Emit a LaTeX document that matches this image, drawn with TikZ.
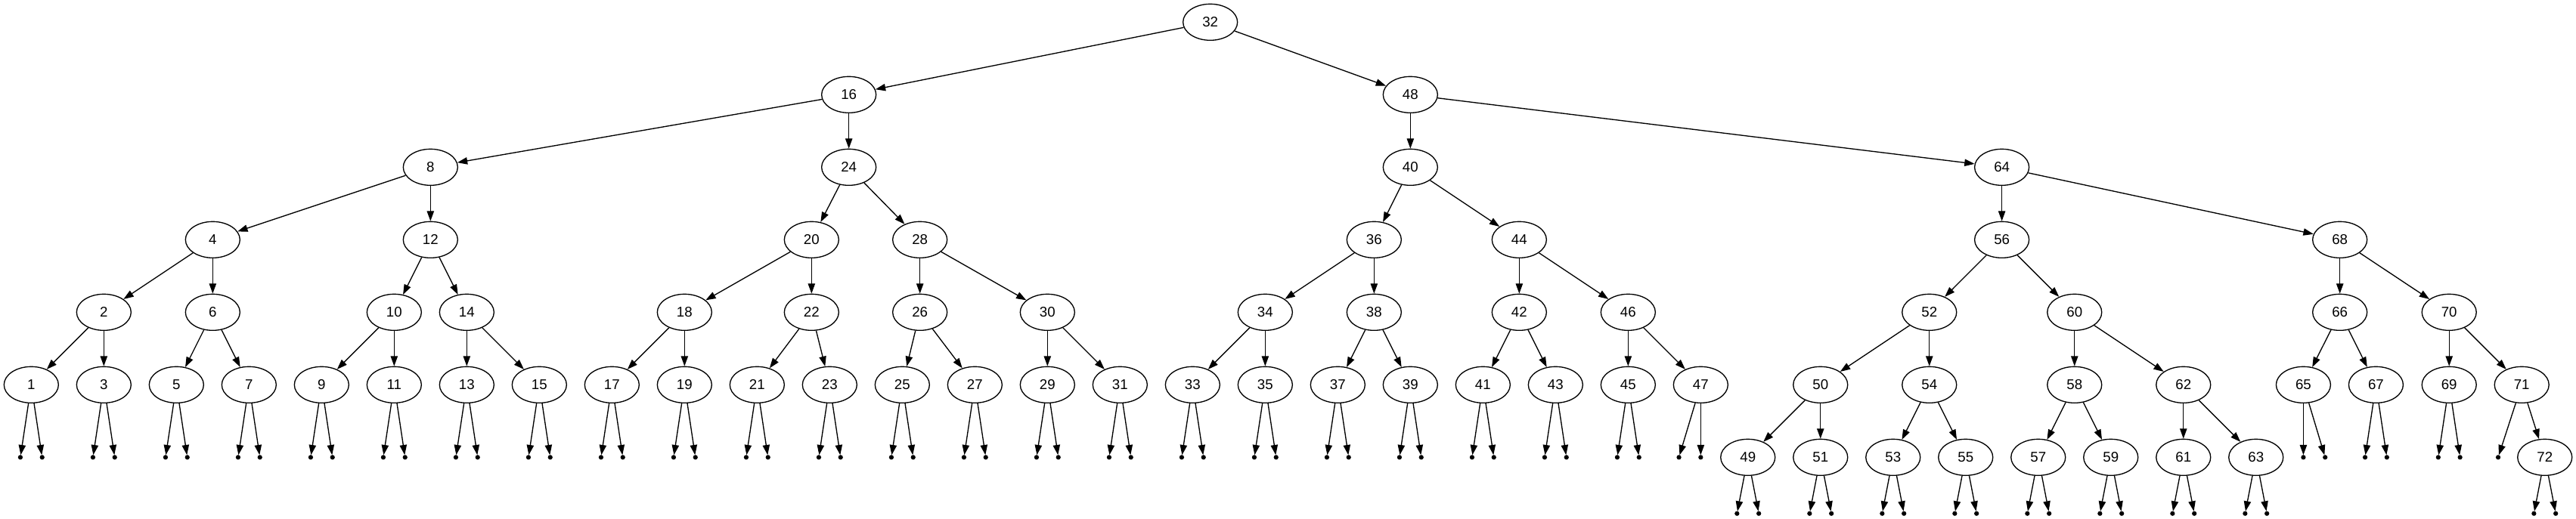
\documentclass[tikz,border=0pt]{standalone}
\usepackage{fontspec}
\setmainfont{Liberation Sans}
\usetikzlibrary{shapes.geometric,arrows.meta}
\tikzset{
  tnode/.style={ellipse, draw=black, line width=1bp, minimum width=54bp, minimum height=36bp, inner sep=0pt, font=\fontsize{14bp}{16bp}\selectfont},
  nullpt/.style={circle, fill=black, draw=black, line width=1bp, minimum size=3.6bp, inner sep=0pt},
  treeedge/.style={draw=black, line width=1bp, -{Triangle[length=10bp,width=7bp]}},
}
\begin{document}
\begin{tikzpicture}[x=1bp,y=-1bp]
\fill[white] (0,0) rectangle (2555.25,515.25);
\useasboundingbox (0,0) rectangle (2555.25,515.25);
% level 0
\node[tnode] (n32) at (1200.5,22) {32};
% level 1
\node[tnode] (n16) at (842,94) {16};
\node[tnode] (n48) at (1399,94) {48};
% level 2
\node[tnode] (n8) at (427,166) {8};
\node[tnode] (n24) at (842,166) {24};
\node[tnode] (n40) at (1399,166) {40};
\node[tnode] (n64) at (1985.7,166) {64};
% level 3
\node[tnode] (n4) at (211,238) {4};
\node[tnode] (n12) at (427,238) {12};
\node[tnode] (n20) at (805,238) {20};
\node[tnode] (n28) at (912.5,238) {28};
\node[tnode] (n36) at (1363,238) {36};
\node[tnode] (n44) at (1507,238) {44};
\node[tnode] (n56) at (1985.7,238) {56};
\node[tnode] (n68) at (2321,238) {68};
% level 4
\node[tnode] (n2) at (103,310) {2};
\node[tnode] (n6) at (211,310) {6};
\node[tnode] (n10) at (391,310) {10};
\node[tnode] (n14) at (463,310) {14};
\node[tnode] (n18) at (679,310) {18};
\node[tnode] (n22) at (805,310) {22};
\node[tnode] (n26) at (912.5,310) {26};
\node[tnode] (n30) at (1039,310) {30};
\node[tnode] (n34) at (1255,310) {34};
\node[tnode] (n38) at (1363,310) {38};
\node[tnode] (n42) at (1507,310) {42};
\node[tnode] (n46) at (1615,310) {46};
\node[tnode] (n52) at (1913.8,310) {52};
\node[tnode] (n60) at (2057.8,310) {60};
\node[tnode] (n66) at (2321,310) {66};
\node[tnode] (n70) at (2429.4,310) {70};
% level 5
\foreach \n in {1,3,...,47}
  \node[tnode] (n\n) at ({36*\n-5},382) {\n};
\node[tnode] (n50) at (1805.8,382) {50};
\node[tnode] (n54) at (1913.8,382) {54};
\node[tnode] (n58) at (2057.8,382) {58};
\node[tnode] (n62) at (2165.8,382) {62};
\node[tnode] (n65) at (2284.8,382) {65};
\node[tnode] (n67) at (2356.8,382) {67};
\node[tnode] (n69) at (2429.4,382) {69};
\node[tnode] (n71) at (2501.4,382) {71};
% level 6
\foreach \n in {49,51,...,63}
  \node[tnode] (n\n) at ({1733.8+36*(\n-49)},454) {\n};
\node[tnode] (n72) at (2524.3,454) {72};
% edges between numbered nodes
\foreach \a/\b in {32/16,32/48,16/8,16/24,8/4,8/12,4/2,4/6,2/1,2/3,6/5,6/7,
  12/10,12/14,10/9,10/11,14/13,14/15,24/20,24/28,20/18,20/22,18/17,18/19,
  22/21,22/23,28/26,28/30,26/25,26/27,30/29,30/31,48/40,48/64,40/36,40/44,
  36/34,36/38,34/33,34/35,38/37,38/39,44/42,44/46,42/41,42/43,46/45,46/47,
  64/56,64/68,56/52,56/60,52/50,52/54,50/49,50/51,54/53,54/55,60/58,60/62,
  58/57,58/59,62/61,62/63,68/66,68/70,66/65,66/67,70/69,70/71,71/72}
  \draw[treeedge] (n\a) -- (n\b);
% empty children (points), level 6
\foreach \n in {1,3,...,45}{
  \node[nullpt] (pl\n) at ({36*\n-5-10.8},454) {};
  \node[nullpt] (pr\n) at ({36*\n-5+10.8},454) {};
}
\node[nullpt] (pl47) at (1665.4,454) {};
\node[nullpt] (pr47) at (1687,454) {};
\node[nullpt] (pl65) at (2284.8,454) {};
\node[nullpt] (pr65) at (2306.4,454) {};
\node[nullpt] (pl67) at (2346,454) {};
\node[nullpt] (pr67) at (2367.6,454) {};
\node[nullpt] (pl69) at (2418.6,454) {};
\node[nullpt] (pr69) at (2440.2,454) {};
\node[nullpt] (pl71) at (2478,454) {};
% empty children (points), level 7
\foreach \n in {49,51,...,63}{
  \node[nullpt] (pl\n) at ({1733.8+36*(\n-49)-10.8},509.8) {};
  \node[nullpt] (pr\n) at ({1733.8+36*(\n-49)+10.8},509.8) {};
}
\node[nullpt] (pl72) at (2513.5,509.8) {};
\node[nullpt] (pr72) at (2535.1,509.8) {};
\foreach \n in {1,3,...,69,72}{
  \draw[treeedge] (n\n) -- (pl\n);
  \draw[treeedge] (n\n) -- (pr\n);
}
\draw[treeedge] (n71) -- (pl71);
\end{tikzpicture}
\end{document}
